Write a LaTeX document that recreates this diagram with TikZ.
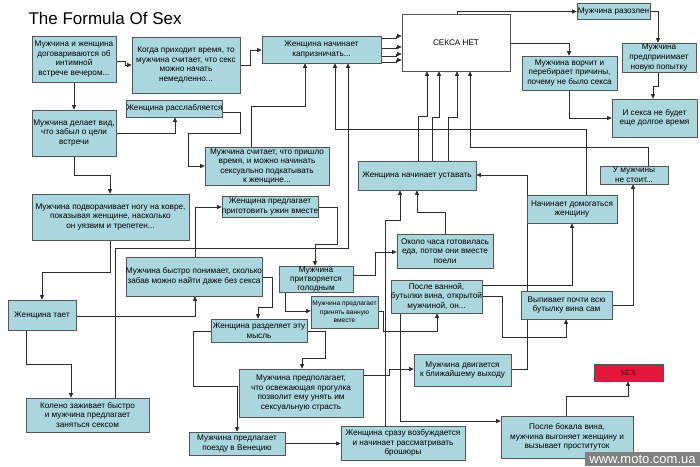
\documentclass[tikz,border=0pt]{standalone}
\usepackage{fontspec}
\setmainfont{Liberation Sans}
\newfontfamily\serifsex{Liberation Serif}
\usetikzlibrary{arrows.meta}
\pgfdeclarelayer{bg}
\pgfdeclarelayer{wires}
\pgfsetlayers{bg,wires,main}
\definecolor{boxfill}{RGB}{170,214,222}
\definecolor{boxline}{RGB}{85,85,85}
\definecolor{wirec}{RGB}{45,45,45}
\definecolor{sexred}{RGB}{228,22,58}
\definecolor{sextext}{RGB}{110,0,20}
\definecolor{wmgray}{RGB}{128,128,128}
\begin{document}
\begin{tikzpicture}[x=1pt,y=-1pt,
  box/.style={draw=boxline,fill=boxfill,line width=0.6pt,inner sep=0pt,align=center,
    font=\fontsize{8.2}{9.6}\selectfont},
  wire/.style={draw=wirec,line width=0.6pt,-{Triangle[length=4.5pt,width=4pt]}},
]
\begin{pgfonlayer}{bg}
\fill[white] (0,0) rectangle (700,466);
\end{pgfonlayer}
\useasboundingbox (0,0) rectangle (700,466);

\node[anchor=base west,font=\fontsize{17}{20}\selectfont] (title) at (25,24) {The Formula Of Sex};

\node[box,minimum width=84pt,minimum height=46pt] (A) at (74,59) {Мужчина и женщина\\договариваются об\\интимной\\встрече вечером...};
\node[box,minimum width=108pt,minimum height=56pt] (B) at (186,65) {Когда приходит время, то\\мужчина считает, что секс\\можно начать\\немедленно...};
\node[box,minimum width=119pt,minimum height=27pt] (C) at (321.5,49.5) {Женщина начинает\\капризничать...};
\node[box,fill=white,minimum width=108pt,minimum height=57pt] (D) at (456,42.5) {СЕКСА НЕТ};
\node[box,minimum width=73pt,minimum height=16pt] (E) at (613.5,11.5) {Мужчина разозлен};
\node[box,minimum width=74pt,minimum height=29pt] (F) at (659,57.5) {Мужчина\\предпринимает\\новую попытку};
\node[box,minimum width=95pt,minimum height=34pt] (G) at (569.5,73) {Мужчина ворчит и\\перебирает причины,\\почему не было секса};
\node[box,minimum width=85pt,minimum height=38pt] (H) at (654.5,118) {И секса не будет\\еще долгое время};
\node[box,minimum width=95pt,minimum height=17pt] (I) at (174.5,108.5) {Женщина расслабляется};
\node[box,minimum width=84pt,minimum height=46pt] (J) at (74,133) {Мужчина делает вид,\\что забыл о цели\\встречи};
\node[box,minimum width=124pt,minimum height=38pt] (K) at (267,166.5) {Мужчина считает, что пришло\\время, и можно начинать\\сексуально подкатывать\\к женщине...};
\node[box,minimum width=96pt,minimum height=21pt] (L) at (270,206.5) {Женщина предлагает\\приготовить ужин вместе};
\node[box,minimum width=157pt,minimum height=46pt] (M) at (110.5,217) {Мужчина подворачивает ногу на ковре,\\показывая женщине, насколько\\он уязвим и трепетен...};
\node[box,minimum width=136pt,minimum height=39pt] (N) at (194,276.5) {Мужчина быстро понимает, сколько\\забав можно найти даже без секса};
\node[box,minimum width=74pt,minimum height=26pt,font=\fontsize{8.2}{9}\selectfont] (O) at (316,279) {Мужчина\\притворяется\\голодным};
\node[box,minimum width=118pt,minimum height=29pt] (P) at (417,175.5) {Женщина начинает уставать};
\node[box,minimum width=96pt,minimum height=34pt] (Q) at (445,251) {Около часа готовилась\\еда, потом они вместе\\поели};
\node[box,minimum width=90pt,minimum height=28pt] (R) at (572,209) {Начинает домогаться\\женщину};
\node[box,minimum width=68pt,minimum height=18pt] (S) at (634,175) {У мужчины\\не стоит...};
\node[box,minimum width=91pt,minimum height=33pt] (T) at (436.5,296.5) {После ванной,\\бутылки вина, открытой\\мужчиной, он...};
\node[box,minimum width=91pt,minimum height=28pt] (U) at (566.5,305) {Выпивает почти всю\\бутылку вина сам};
\node[box,minimum width=67pt,minimum height=32pt,font=\fontsize{6.6}{8.5}\selectfont] (V) at (344.5,312) {Мужчина предлагает\\принять ванную\\вместе};
\node[box,minimum width=96pt,minimum height=23pt] (W) at (259,330.5) {Женщина разделяет эту\\мысль};
\node[box,minimum width=68pt,minimum height=30pt] (X) at (42,315) {Женщина тает};
\node[box,minimum width=124pt,minimum height=48pt] (Y) at (301,393) {Мужчина предполагает,\\что освежающая прогулка\\позволит ему унять им\\сексуальную страсть};
\node[box,minimum width=97pt,minimum height=32pt] (Z) at (462.5,370) {Мужчина двигается\\к ближайшему выходу};
\node[box,minimum width=123pt,minimum height=34pt] (AA) at (87.5,415) {Колено заживает быстро\\и мужчина предлагает\\заняться сексом};
\node[box,minimum width=96pt,minimum height=23pt] (BB) at (237,443.5) {Мужчина предлагает\\поезду в Венецию};
\node[box,minimum width=124pt,minimum height=34pt] (CC) at (403,443) {Женщина сразу возбуждается\\и начинает рассматривать\\брошюры};
\node[box,minimum width=132pt,minimum height=42pt] (DD) at (567,437) {После бокала вина,\\мужчина выгоняет женщину и\\вызывает проституток};
\node[box,fill=sexred,minimum width=69pt,minimum height=17pt,font=\serifsex\bfseries\fontsize{8}{9}\selectfont,text=sextext] (EE) at (628.5,372.5) {SEX};

\node[fill=wmgray,minimum width=115pt,minimum height=14pt,inner sep=0pt,text=white,
  font=\fontsize{13}{14}\selectfont] (wm) at (642.5,459) {www.moto.com.ua};

\begin{pgfonlayer}{wires}
\draw[wire] (A.east |- 0,61) -- (125,61) -- (125,65) -- (B.west |- 0,65);
\draw[wire] (A.south) -- (J.north);
\draw[wire] (J.east) -- (175,133) -- (I.south -| 175,0);
\draw[wire] (J.south) -- (74,175) -- (110,175) -- (M.north -| 110,0);
\draw[wire] (B.east) -- (250,65) -- (250,50) -- (C.west |- 0,50);
\draw[wire] (I.east |- 0,112) -- (240,112) -- (240,133) -- (188,133) -- (188,166) -- (K.west |- 0,166);
\draw[wire] (K.north -| 251,0) -- (251,106) -- (305,106) -- (C.south -| 305,0);
\draw[wire] (C.east |- 0,38) -- (396,38) -- (396,36) -- (D.west |- 0,36);
\draw[wire] (C.east |- 0,48) -- (396,48) -- (396,47) -- (D.west |- 0,47);
\draw[wire] (C.east |- 0,56) -- (396,56) -- (396,54) -- (D.west |- 0,54);
\draw[wire] (C.east |- 0,62) -- (396,62) -- (396,60) -- (D.west |- 0,60);
\draw[wire] (D.north -| 457,0) -- (457,11.5) -- (E.west);
\draw[wire] (D.east |- 0,43) -- (569,43) -- (G.north -| 569,0);
\draw[wire] (E.east) -- (658,11.5) -- (F.north -| 658,0);
\draw[wire] (F.south -| 658,0) -- (658,86) -- (653,86) -- (H.north -| 653,0);
\draw[wire] (G.south -| 569,0) -- (569,118) -- (H.west);
\draw[wire] (R.north -| 586,0) -- (586,129) -- (335,129) -- (C.south -| 335,0);
\draw[wire] (S.north -| 648,0) -- (648,147) -- (470,147) -- (D.south -| 470,0);
\draw[wire] (AA.north -| 115,0) -- (115,248) -- (348,248) -- (C.south -| 348,0);
\draw[wire] (P.north -| 418,0) -- (418,116) -- (427,116) -- (D.south -| 427,0);
\draw[wire] (P.north -| 432,0) -- (432,117) -- (439,117) -- (D.south -| 439,0);
\draw[wire] (P.north -| 448,0) -- (448,117) -- (457,117) -- (D.south -| 457,0);
\draw[wire] (Q.north) -- (445,212) -- (417,212) -- (P.south);
\draw[wire] (CC.north -| 385,0) -- (385,220) -- (400,220) -- (P.south -| 400,0);
\draw[wire] (Z.east |- 0,369) -- (527,369) -- (527,175) -- (P.east |- 0,175);
\draw[wire] (T.east |- 0,285) -- (572,285) -- (R.south);
\draw[wire] (T.east |- 0,296) -- (502,296) -- (502,337) -- (566,337) -- (U.south -| 566,0);
\draw[wire] (U.east) -- (633,305) -- (S.south -| 633,0);
\draw[wire] (T.south -| 400,0) -- (400,421) -- (DD.west |- 0,421);
\draw[wire] (DD.north -| 566,0) -- (566,396) -- (628,396) -- (EE.south -| 628,0);
\draw[wire] (V.east |- 0,311) -- (383,311) -- (383,331) -- (437,331) -- (T.south -| 437,0);
\draw[wire] (Y.east |- 0,375) -- (389,375) -- (389,369) -- (Z.west |- 0,369);
\draw[wire] (BB.east) -- (CC.west |- BB.east);
\draw[wire] (W.east |- 0,331) -- (325,331) -- (325,358) -- (302,358) -- (Y.north -| 302,0);
\draw[wire] (W.west |- 0,331) -- (193,331) -- (193,386) -- (237,386) -- (BB.north);
\draw[wire] (N.east |- 0,277) -- (272,277) -- (272,307) -- (258,307) -- (W.north -| 258,0);
\draw[wire] (N.north -| 195,0) -- (195,207) -- (L.west |- 0,207);
\draw[wire] (L.east |- 0,207) -- (337,207) -- (337,244) -- (315,244) -- (O.north -| 315,0);
\draw[wire] (O.east |- 0,275) -- (375,275) -- (375,252) -- (Q.west |- 0,252);
\draw[wire] (O.south -| 285,0) -- (285,311) -- (V.west |- 0,311);
\draw[wire] (X.east |- 0,316) -- (195,316) -- (N.south -| 195,0);
\draw[wire] (X.south -| 26,0) -- (26,364) -- (71,364) -- (AA.north -| 71,0);
\draw[wire] (M.south -| 110,0) -- (110,272) -- (42,272) -- (X.north);
\end{pgfonlayer}
\end{tikzpicture}
\end{document}
